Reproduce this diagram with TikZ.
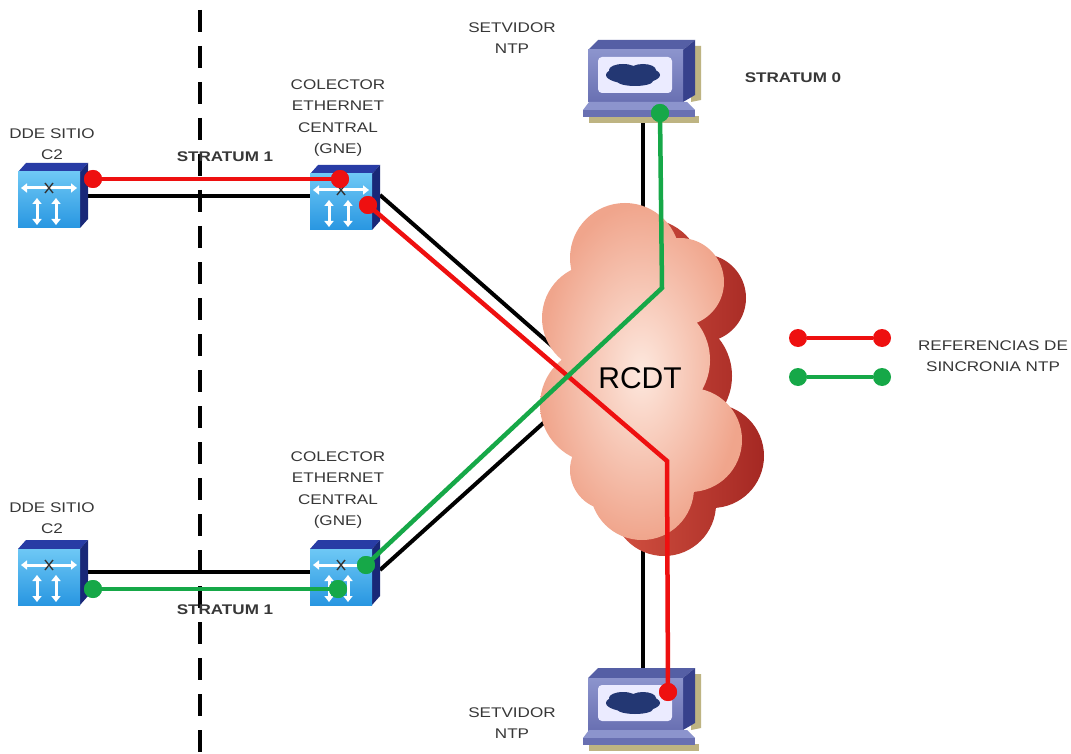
\documentclass[tikz,border=0pt]{standalone}
\usepackage{fontspec}
\setmainfont{Liberation Sans}
\usetikzlibrary{arrows.meta}

\definecolor{syncred}{RGB}{238,16,16}
\definecolor{syncgreen}{RGB}{22,168,72}
\definecolor{txtgray}{RGB}{55,55,55}
\definecolor{swfront}{RGB}{40,150,225}
\definecolor{swfrontlt}{RGB}{110,200,245}
\definecolor{swtop}{RGB}{40,60,165}
\definecolor{swside}{RGB}{25,40,120}
\definecolor{pcfront}{RGB}{105,112,178}
\definecolor{pcfrontlt}{RGB}{140,148,205}
\definecolor{pcside}{RGB}{55,65,140}
\definecolor{pctop}{RGB}{85,95,165}
\definecolor{pcblob}{RGB}{35,55,115}
\definecolor{pcshadow}{RGB}{190,180,130}
\definecolor{cloudlt}{RGB}{253,232,222}
\definecolor{cloudmid}{RGB}{240,165,140}
\definecolor{shadowlt}{RGB}{225,95,75}
\definecolor{shadowdk}{RGB}{165,40,35}

\tikzset{
  lbl/.style={font=\fontsize{14}{21.5}\selectfont, text=txtgray, xscale=1.22, inner sep=0pt, align=center},
  boldlbl/.style={lbl, font=\fontsize{14}{21.5}\selectfont\bfseries},
  cable/.style={line width=4pt, black},
  syncr/.style={line width=4.5pt, syncred, line join=miter},
  syncg/.style={line width=4.5pt, syncgreen, line join=miter},
  rdot/.style={circle, fill=syncred, minimum size=18pt, inner sep=0pt},
  gdot/.style={circle, fill=syncgreen, minimum size=18pt, inner sep=0pt},
  swarrow/.style={white, line width=3pt, {Triangle[length=6pt,width=9pt]}-{Triangle[length=6pt,width=9pt]}},
  switchicon/.pic={
    \fill[swtop] (0,0) -- (8,-9) -- (70,-9) -- (62,0) -- cycle;
    \fill[swside] (62,0) -- (70,-9) -- (70,47) -- (62,56) -- cycle;
    \shade[top color=swfrontlt, bottom color=swfront] (0,0) rectangle (62,56);
    \draw[swarrow] (3,16) -- (59,16);
    \draw[black!80, line width=1.4pt] (27,11) -- (35,21) (35,11) -- (27,21);
    \draw[swarrow] (19,26) -- (19,53);
    \draw[swarrow] (38,26) -- (38,53);
  },
  servericon/.pic={
    % olive drop shadow
    \fill[pcshadow] (108,8) -- (118,8) -- (118,62) -- (108,64) -- cycle;
    \fill[pcshadow] (6,78) -- (116,78) -- (116,85) -- (6,85) -- cycle;
    % monitor
    \fill[pctop] (5,12) -- (15,2) -- (112,2) -- (100,12) -- cycle;
    \fill[pcside] (100,12) -- (112,2) -- (112,57) -- (100,64) -- cycle;
    \shade[top color=pcfrontlt, bottom color=pcfront] (5,12) rectangle (100,64);
    \fill[white!92!blue, rounded corners=4pt] (15,19) rectangle (89,55);
    \fill[pcblob] (50,37) ellipse [x radius=27, y radius=9];
    \fill[pcblob] (40,32) ellipse [x radius=14, y radius=6];
    \fill[pcblob] (60,32) ellipse [x radius=13, y radius=6];
    \fill[pcblob] (52,43) ellipse [x radius=18, y radius=5];
    % keyboard
    \fill[pcfrontlt] (6,64) -- (104,64) -- (112,72) -- (0,72) -- cycle;
    \fill[pcfront] (0,72) rectangle (112,79);
  }
}

% lobes of the network cloud
\newcommand{\cloudlobes}{(625,258) circle (55) (680,282) circle (44) (596,318) circle (54)
  (598,405) circle (58) (650,360) circle (60) (690,440) circle (52) (642,488) circle (52)
  (610,470) circle (40)}

\begin{document}
\begin{tikzpicture}[x=1pt, y=-1pt]
\useasboundingbox (0,0) rectangle (1071,754);
\fill[white] (0,0) rectangle (1071,754);

% connection points
\coordinate (ddeA-r) at (88,196);
\coordinate (gneA-l) at (310,196);
\coordinate (gneA-d) at (380,195);
\coordinate (netA) at (600,388);
\coordinate (ddeB-r) at (88,572);
\coordinate (gneB-l) at (310,572);
\coordinate (gneB-d) at (380,570);
\coordinate (netB) at (580,390);
\coordinate (srvA-b) at (643,120);
\coordinate (netC) at (643,280);
\coordinate (srvB-t) at (643,672);
\coordinate (netD) at (643,500);
\coordinate (redbend) at (667,461);
\coordinate (greenbend) at (662,288);

% physical cabling
\draw[cable] (ddeA-r) -- (gneA-l);
\draw[cable] (gneA-d) -- (netA);
\draw[cable] (ddeB-r) -- (gneB-l);
\draw[cable] (gneB-d) -- (netB);
\draw[cable] (srvA-b) -- (netC);
\draw[cable] (srvB-t) -- (netD);

% network cloud with its shadow
\begin{scope}[shift={(22,16)}]
  \shade[left color=shadowlt, right color=shadowdk] \cloudlobes;
\end{scope}
\shade[inner color=cloudlt, outer color=cloudmid] \cloudlobes;
\node (rcdt) at (640,378) {\fontsize{30}{30}\selectfont RCDT};

% devices
\pic at (18,172) {switchicon};
\pic at (310,174) {switchicon};
\pic at (18,549) {switchicon};
\pic at (310,549) {switchicon};
\pic at (583,38) {servericon};
\pic at (583,666) {servericon};

% boundary
\draw[line width=4pt, dash pattern=on 22pt off 14pt] (200,10) -- (200,754);

% synchronisation references
\node[rdot] (r1) at (93,179) {};
\node[rdot] (r2) at (340,179) {};
\node[rdot] (r3) at (368,205) {};
\node[rdot] (r4) at (668,692) {};
\node[gdot] (g1) at (93,589) {};
\node[gdot] (g2) at (338,589) {};
\node[gdot] (g3) at (366,565) {};
\node[gdot] (g4) at (660,113) {};
\draw[syncr] (r1.center) -- (r2.center);
\draw[syncr] (r3.center) -- (redbend) -- (r4.center);
\draw[syncg] (g1.center) -- (g2.center);
\draw[syncg] (g3.center) -- (greenbend) -- (g4.center);
\foreach \d in {r1,r2,r3,r4} \fill[syncred] (\d) circle (9);
\foreach \d in {g1,g2,g3,g4} \fill[syncgreen] (\d) circle (9);

% legend
\node[rdot] (lr1) at (798,338) {};
\node[rdot] (lr2) at (882,338) {};
\node[gdot] (lg1) at (798,377) {};
\node[gdot] (lg2) at (882,377) {};
\draw[syncr] (lr1) -- (lr2);
\draw[syncg] (lg1) -- (lg2);
\node[lbl] (legtext) at (993,356) {REFERENCIAS DE\\SINCRONIA NTP};

% labels
\node[lbl] (tsrvA) at (512,38) {SETVIDOR\\NTP};
\node[lbl] (tsrvB) at (512,723) {SETVIDOR\\NTP};
\node[boldlbl] (tst0) at (793,78) {STRATUM 0};
\node[lbl] (tddeA) at (52,144) {DDE SITIO\\C2};
\node[lbl] (tddeB) at (52,518) {DDE SITIO\\C2};
\node[lbl] (tgneA) at (338,118) {COLECTOR\\ETHERNET\\CENTRAL\\(GNE)};
\node[lbl] (tgneB) at (338,490) {COLECTOR\\ETHERNET\\CENTRAL\\(GNE)};
\node[boldlbl] (tst1A) at (225,157) {STRATUM 1};
\node[boldlbl] (tst1B) at (225,610) {STRATUM 1};
\end{tikzpicture}
\end{document}
